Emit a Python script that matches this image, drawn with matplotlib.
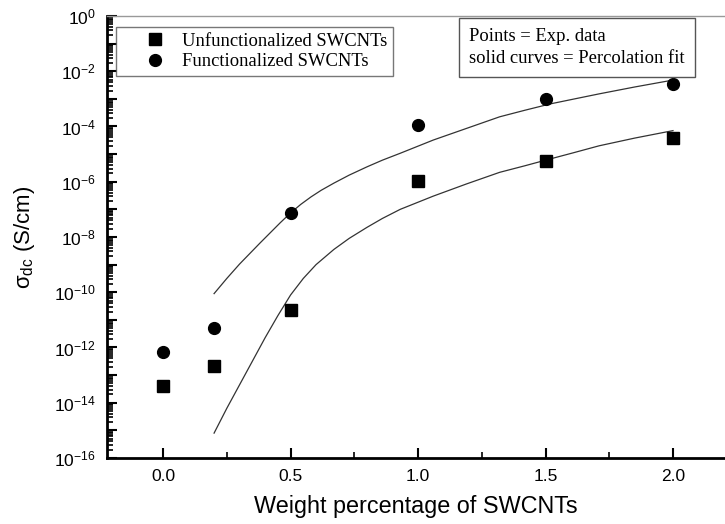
import matplotlib.pyplot as plt
import numpy as np
from matplotlib.legend_handler import HandlerLine2D
from matplotlib.ticker import FixedLocator, FuncFormatter, LogLocator, NullFormatter

plt.rcParams['font.family'] = ['Liberation Sans', 'DejaVu Sans']
plt.rcParams['mathtext.fontset'] = 'custom'
plt.rcParams['mathtext.rm'] = 'Liberation Sans'
plt.rcParams['mathtext.it'] = 'Liberation Sans:italic'
plt.rcParams['axes.unicode_minus'] = False

# data
wt = [0.0, 0.2, 0.5, 1.0, 1.5, 2.0]
unfunc = [4.0e-14, 2.2e-13, 2.2e-11, 1.05e-6, 5.6e-6, 3.8e-5]
func = [6.8e-13, 5.0e-12, 7.5e-8, 1.1e-4, 1.0e-3, 3.5e-3]

# percolation fit curves (log10 of sigma)
fit_x_func = [0.20, 0.25, 0.30, 0.34, 0.38, 0.42, 0.46, 0.50, 0.54, 0.58, 0.62, 0.67, 0.73, 0.80, 0.86, 0.93,
              1.06, 1.19, 1.32, 1.42, 1.52, 1.62, 1.71, 1.85, 2.00]
fit_log_func = [-10.05, -9.50, -8.98, -8.60, -8.22, -7.85, -7.48, -7.13, -6.82, -6.55, -6.31, -6.05, -5.76, -5.46,
                -5.22, -4.97, -4.49, -4.07, -3.65, -3.41, -3.18, -2.99, -2.82, -2.57, -2.32]
fit_x_unf = [0.20, 0.25, 0.30, 0.35, 0.40, 0.45, 0.50, 0.55, 0.60, 0.67, 0.73, 0.80, 0.86, 0.93, 1.06, 1.19,
             1.32, 1.42, 1.50, 1.61, 1.71, 1.85, 2.00]
fit_log_unf = [-15.10, -14.20, -13.35, -12.50, -11.65, -10.85, -10.10, -9.50, -9.00, -8.45, -8.05, -7.65, -7.33,
               -7.00, -6.52, -6.08, -5.66, -5.42, -5.22, -4.95, -4.70, -4.42, -4.15]

fig = plt.figure(figsize=(7.25, 5.24), dpi=100)
ax = fig.add_axes([0.1476, 0.126, 0.8524, 0.8435])

ax.plot(fit_x_func, 10.0 ** np.array(fit_log_func), color="#333333", lw=0.9)
ax.plot(fit_x_unf, 10.0 ** np.array(fit_log_unf), color="#333333", lw=0.9)
sq, = ax.plot(wt, unfunc, "s", color="black", markersize=8, label="Unfunctionalized SWCNTs")
ci, = ax.plot(wt, func, "o", color="black", markersize=8.5, label="Functionalized SWCNTs")

ax.set_yscale("log")
ax.set_ylim(1e-16, 1)
ax.set_xlim(-0.22, 2.204)

# ticks
ax.yaxis.set_major_locator(FixedLocator([10.0 ** k for k in range(-16, 1)]))
ax.yaxis.set_major_formatter(FuncFormatter(
    lambda v, p: "$10^{%d}$" % round(np.log10(v)) if round(np.log10(v)) % 2 == 0 else ""))
ax.yaxis.set_minor_locator(LogLocator(base=10, subs=np.arange(2, 10), numticks=40))
ax.yaxis.set_minor_formatter(NullFormatter())
ax.set_xticks([0.0, 0.5, 1.0, 1.5, 2.0])
ax.set_xticklabels(["0.0", "0.5", "1.0", "1.5", "2.0"])
ax.set_xticks([0.25, 0.75, 1.25, 1.75], minor=True)
ax.tick_params(axis="both", which="major", direction="in", length=7, width=1.5, labelsize=12.5, pad=8)
ax.tick_params(axis="both", which="minor", direction="in", length=4, width=1.2)

ax.spines["left"].set_linewidth(2)
ax.spines["bottom"].set_linewidth(2)
ax.spines["right"].set_visible(False)
ax.spines["top"].set_color("#999999")
ax.spines["top"].set_linewidth(1)

ax.set_xlabel("Weight percentage of SWCNTs", fontsize=16.8, labelpad=8)
ax.set_ylabel("σ$_{\\mathrm{dc}}$ (S/cm)", fontsize=16, labelpad=12)

# legend: marker pushed a bit to the right inside its handle box
hmap = {sq: HandlerLine2D(xpad=0.95), ci: HandlerLine2D(xpad=0.95)}
leg = ax.legend(handler_map=hmap, loc="upper left", bbox_to_anchor=(0.0145, 0.975), borderaxespad=0,
                frameon=True, fancybox=False, edgecolor="#555555",
                prop={"family": "Liberation Serif", "size": 13.4},
                handletextpad=0.63, borderpad=0.3, labelspacing=0.18, handlelength=2.6)
leg.get_frame().set_linewidth(1)

ax.text(0.935, 0.973, "Points = Exp. data\nsolid curves = Percolation fit", transform=ax.transAxes,
        ha="right", va="top", multialignment="left", family="Liberation Serif", fontsize=13.4,
        linespacing=1.4, bbox=dict(boxstyle="square,pad=0.55", fc="white", ec="#555555", lw=1))

fig.savefig("out.png")
